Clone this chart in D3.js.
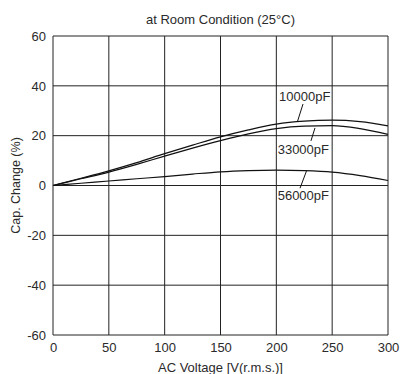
<!DOCTYPE html>
<html>
<head>
<meta charset="utf-8">
<script src="https://cdn.jsdelivr.net/npm/d3@7"></script>
<style>
  html, body { margin: 0; padding: 0; background: #fff; }
  text { font-family: Arial, "Liberation Sans", Helvetica, sans-serif; fill: #2a2a2a; }
</style>
</head>
<body>
<div id="chart"></div>
<script>
// AC voltage (V r.m.s.)
const voltages = [0, 25, 50, 75, 100, 125, 150, 175, 200, 225, 250, 275, 300];
// capacitance change (%) per capacitance
const cap10000 = [0, 2.9, 5.9, 9.2, 12.8, 16.2, 19.5, 22.3, 24.6, 25.8, 26.2, 25.6, 23.9];
const cap33000 = [0, 2.7, 5.4, 8.5, 11.8, 15.0, 18.0, 20.7, 22.8, 23.8, 24.0, 22.8, 20.5];
const cap56000 = [0, 0.9, 1.8, 2.7, 3.6, 4.6, 5.5, 6.0, 6.2, 6.0, 5.4, 4.0, 2.0];
const seriesNames = ['10000pF', '33000pF', '56000pF'];
const xTicks = [0, 50, 100, 150, 200, 250, 300];
const yTicks = [-60, -40, -20, 0, 20, 40, 60];
// label anchor [V, %] and leader line [V1, %1, V2, %2]
const labelAt = [[202.4, 33.9], [201.2, 12.6], [201.2, -5.8]];
const leaders = [[223.9, 32.7, 219, 25.8], [234.6, 23.1, 231, 17.9], [227, 5.8, 221.2, -1.1]];

const W = 400, H = 374;
const margin = { top: 36, right: 12, bottom: 39, left: 53 };
const w = W - margin.left - margin.right;
const h = H - margin.top - margin.bottom;

const svg = d3.select('#chart').append('svg').attr('width', W).attr('height', H);
const g = svg.append('g').attr('transform', `translate(${margin.left},${margin.top})`);

const x = d3.scaleLinear().domain([0, 300]).range([0, w]);
const y = d3.scaleLinear().domain([-60, 60]).range([h, 0]);

// grid
g.selectAll('.vgrid').data(xTicks).enter().append('line')
  .attr('x1', d => x(d)).attr('x2', d => x(d)).attr('y1', 0).attr('y2', h)
  .attr('stroke', '#222').attr('stroke-width', 1);
g.selectAll('.hgrid').data(yTicks).enter().append('line')
  .attr('x1', 0).attr('x2', w).attr('y1', d => y(d)).attr('y2', d => y(d))
  .attr('stroke', '#222').attr('stroke-width', 1);

// tick labels (plain hyphen for negatives, like the original)
const fmt = d => String(d);
const xAxis = d3.axisBottom(x).tickValues(xTicks).tickFormat(fmt).tickSize(0).tickPadding(8);
g.append('g').attr('transform', `translate(0,${h})`).call(xAxis)
  .call(s => s.select('.domain').remove())
  .selectAll('text').attr('font-size', 13).attr('font-family', null).attr('fill', '#2a2a2a');
const yAxis = d3.axisLeft(y).tickValues(yTicks).tickFormat(fmt).tickSize(0).tickPadding(7);
g.append('g').call(yAxis)
  .call(s => s.select('.domain').remove())
  .selectAll('text').attr('font-size', 13).attr('font-family', null).attr('fill', '#2a2a2a');

// curves
const line = d3.line().x((d, i) => x(voltages[i])).y(d => y(d)).curve(d3.curveMonotoneX);
[cap10000, cap33000, cap56000].forEach(s => {
  g.append('path').attr('d', line(s)).attr('fill', 'none')
    .attr('stroke', '#111').attr('stroke-width', 1.2);
});

// labels and leaders
seriesNames.forEach((name, i) => {
  const l = leaders[i];
  g.append('line').attr('x1', x(l[0])).attr('y1', y(l[1])).attr('x2', x(l[2])).attr('y2', y(l[3]))
    .attr('stroke', '#111').attr('stroke-width', 1);
  g.append('text').attr('x', x(labelAt[i][0])).attr('y', y(labelAt[i][1]))
    .attr('font-size', 13).text(name);
});

// titles
svg.append('text').attr('x', margin.left + w / 2).attr('y', 23.5).attr('text-anchor', 'middle')
  .attr('font-size', 13).text('at Room Condition (25°C)');
svg.append('text').attr('x', margin.left + w / 2).attr('y', 372).attr('text-anchor', 'middle')
  .attr('font-size', 13).text('AC Voltage [V(r.m.s.)]');
svg.append('text').attr('transform', `translate(20,${margin.top + h / 2}) rotate(-90)`)
  .attr('text-anchor', 'middle').attr('font-size', 12.5).text('Cap. Change (%)');
</script>
</body>
</html>
